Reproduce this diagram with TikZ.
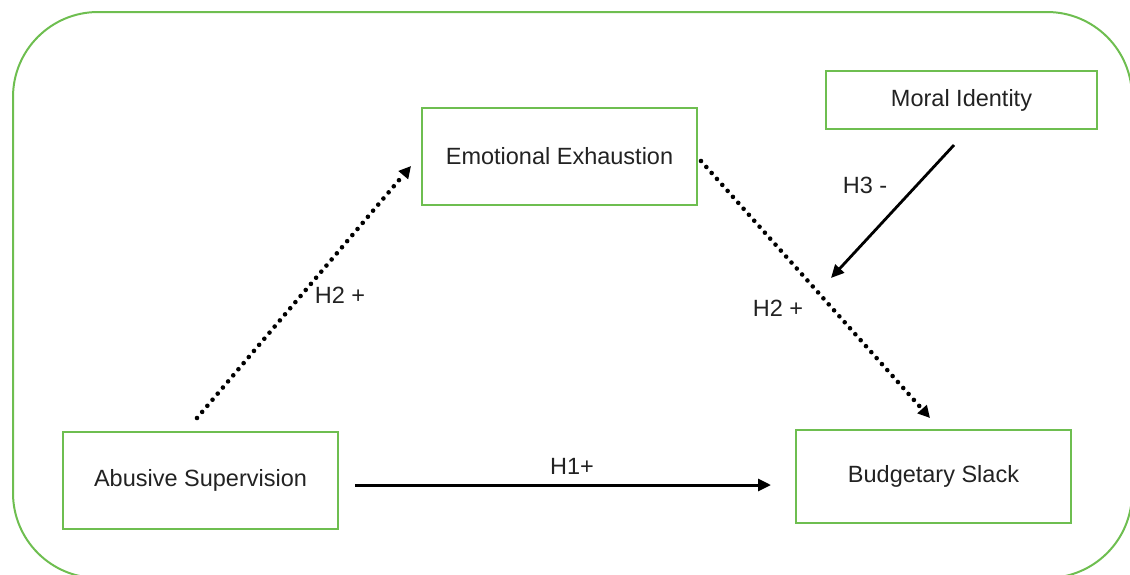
\documentclass[tikz,border=0pt]{standalone}
\usepackage{fontspec}
\setmainfont{Liberation Sans}
\usetikzlibrary{arrows.meta}
\definecolor{boxgreen}{RGB}{110,190,80}
\definecolor{txtgray}{RGB}{34,34,34}
\tikzset{
  varbox/.style={draw=boxgreen, line width=2pt, minimum width=275pt, minimum height=97pt, text=txtgray},
  hyplabel/.style={text=txtgray},
  solidarrow/.style={line width=3pt, -{Triangle[length=13pt,width=12pt]}},
  dotarrow/.style={line width=4.6pt, line cap=round, dash pattern=on 0pt off 8pt, -{Triangle[length=12pt,width=12pt]}}
}
\begin{document}
\begin{tikzpicture}[x=1pt, y=-1pt, font=\fontsize{23.5}{28}\selectfont]
\useasboundingbox (0,0) rectangle (1130,574);
\draw[boxgreen, line width=2pt, rounded corners=85pt] (13,12) rectangle (1132,578);
\node[varbox] (EmoEx) at (559.5,156.5) {Emotional Exhaustion};
\node[varbox, minimum width=271pt, minimum height=58pt] (MoralId) at (961.5,100) {Moral Identity};
\node[varbox] (AbSup) at (200.5,480) {Abusive Supervision};
\node[varbox, minimum height=93pt] (BudSlack) at (933.5,476.5) {Budgetary Slack};
% arrow ends
\coordinate (H1s) at (355,485);
\coordinate (H1e) at (771,485);
\coordinate (H2as) at (197,418);
\coordinate (H2ae) at (411,166);
\coordinate (H2bs) at (701,161);
\coordinate (H2be) at (930,418);
\coordinate (H3s) at (954,145);
\coordinate (H3e) at (831,278);
\draw[solidarrow] (H1s) -- (H1e);
\draw[dotarrow] (H2as) -- (H2ae);
\draw[dotarrow] (H2bs) -- (H2be);
\draw[solidarrow, line width=2.8pt] (H3s) -- (H3e);
% labels
\node[hyplabel] (LabH1) at (572,466) {H1+};
\node[hyplabel] (LabH2a) at (340,295) {H2 +};
\node[hyplabel] (LabH2b) at (778,308) {H2 +};
\node[hyplabel] (LabH3) at (865,185) {H3 -};
\end{tikzpicture}
\end{document}
